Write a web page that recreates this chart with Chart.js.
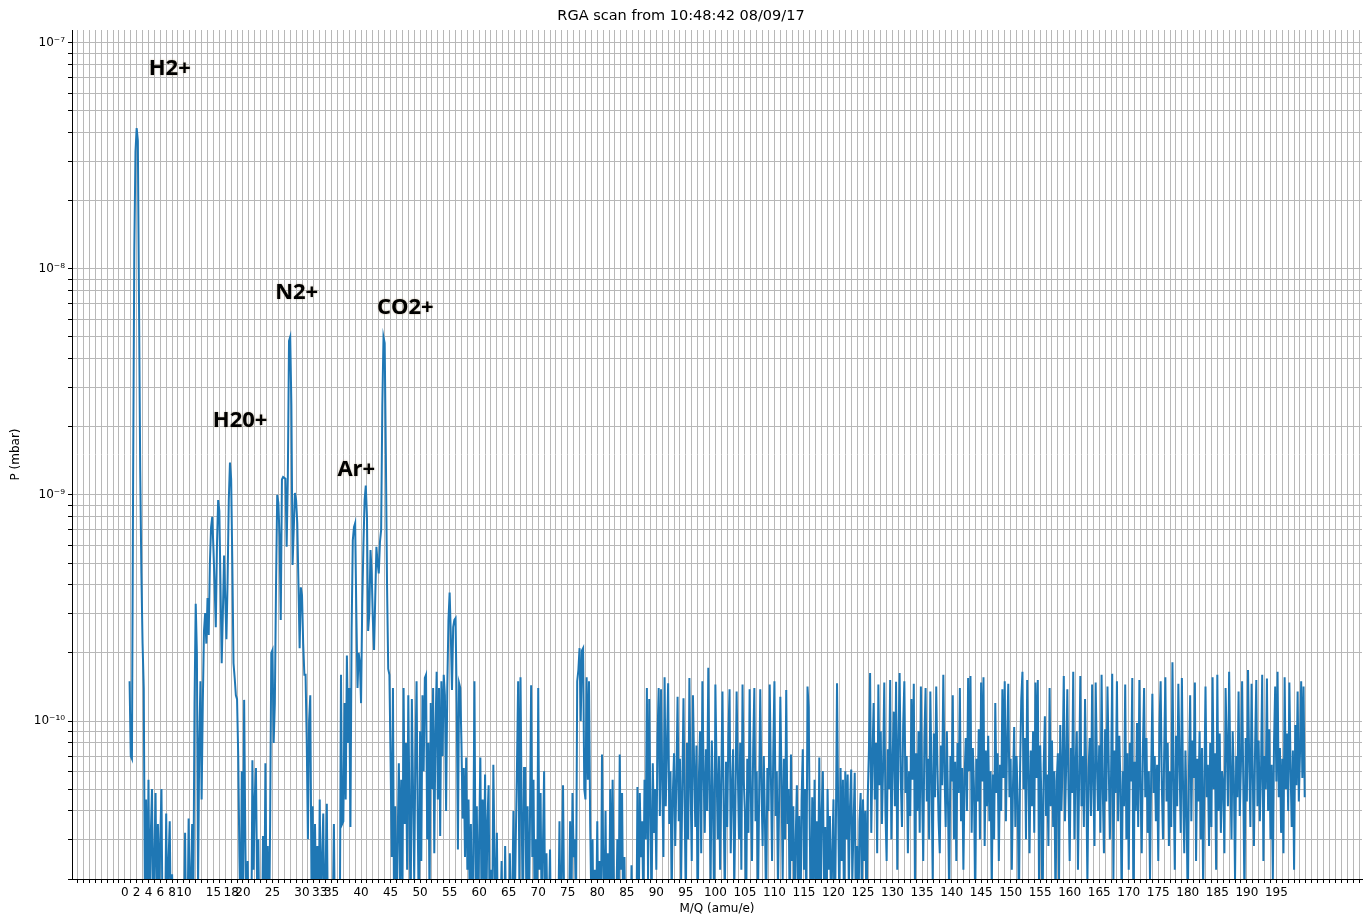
<!DOCTYPE html>
<html>
<head>
<meta charset="utf-8">
<title>RGA scan</title>
<script src="https://cdn.jsdelivr.net/npm/chart.js@4.4.1/dist/chart.umd.min.js"></script>
<style>
  html, body { margin: 0; padding: 0; background: #fff; }
  #rga { display: block; }
</style>
</head>
<body>
<canvas id="rga" width="1364" height="917"></canvas>
<script>
const chartTitle = 'RGA scan from 10:48:42 08/09/17';

// M/Q (amu/e), scan step 0.2
const mass = [
  0.8,
  1,1.2,1.4,1.6,1.8,2,2.2,2.4,2.6,2.8,3,3.2,3.4,3.6,3.8,4,4.2,4.4,4.6,4.8,5,5.2,5.4,5.6,5.8,6,6.2,6.4,6.6,6.8,7,7.2,7.4,7.6,7.8,8,8.2,8.4,8.6,8.8,9,9.2,9.4,9.6,9.8,10,10.2,10.4,10.6,10.8,
  11,11.2,11.4,11.6,11.8,12,12.2,12.4,12.6,12.8,13,13.2,13.4,13.6,13.8,14,14.2,14.4,14.6,14.8,15,15.2,15.4,15.6,15.8,16,16.2,16.4,16.6,16.8,17,17.2,17.4,17.6,17.8,18,18.2,18.4,18.6,18.8,19,19.2,19.4,19.6,19.8,20,20.2,20.4,20.6,20.8,
  21,21.2,21.4,21.6,21.8,22,22.2,22.4,22.6,22.8,23,23.2,23.4,23.6,23.8,24,24.2,24.4,24.6,24.8,25,25.2,25.4,25.6,25.8,26,26.2,26.4,26.6,26.8,27,27.2,27.4,27.6,27.8,28,28.2,28.4,28.6,28.8,29,29.2,29.4,29.6,29.8,30,30.2,30.4,30.6,30.8,
  31,31.2,31.4,31.6,31.8,32,32.2,32.4,32.6,32.8,33,33.2,33.4,33.6,33.8,34,34.2,34.4,34.6,34.8,35,35.2,35.4,35.6,35.8,36,36.2,36.4,36.6,36.8,37,37.2,37.4,37.6,37.8,38,38.2,38.4,38.6,38.8,39,39.2,39.4,39.6,39.8,40,40.2,40.4,40.6,40.8,
  41,41.2,41.4,41.6,41.8,42,42.2,42.4,42.6,42.8,43,43.2,43.4,43.6,43.8,44,44.2,44.4,44.6,44.8,45,45.2,45.4,45.6,45.8,46,46.2,46.4,46.6,46.8,47,47.2,47.4,47.6,47.8,48,48.2,48.4,48.6,48.8,49,49.2,49.4,49.6,49.8,50,50.2,50.4,50.6,50.8,
  51,51.2,51.4,51.6,51.8,52,52.2,52.4,52.6,52.8,53,53.2,53.4,53.6,53.8,54,54.2,54.4,54.6,54.8,55,55.2,55.4,55.6,55.8,56,56.2,56.4,56.6,56.8,57,57.2,57.4,57.6,57.8,58,58.2,58.4,58.6,58.8,59,59.2,59.4,59.6,59.8,60,60.2,60.4,60.6,60.8,
  61,61.2,61.4,61.6,61.8,62,62.2,62.4,62.6,62.8,63,63.2,63.4,63.6,63.8,64,64.2,64.4,64.6,64.8,65,65.2,65.4,65.6,65.8,66,66.2,66.4,66.6,66.8,67,67.2,67.4,67.6,67.8,68,68.2,68.4,68.6,68.8,69,69.2,69.4,69.6,69.8,70,70.2,70.4,70.6,70.8,
  71,71.2,71.4,71.6,71.8,72,72.2,72.4,72.6,72.8,73,73.2,73.4,73.6,73.8,74,74.2,74.4,74.6,74.8,75,75.2,75.4,75.6,75.8,76,76.2,76.4,76.6,76.8,77,77.2,77.4,77.6,77.8,78,78.2,78.4,78.6,78.8,79,79.2,79.4,79.6,79.8,80,80.2,80.4,80.6,80.8,
  81,81.2,81.4,81.6,81.8,82,82.2,82.4,82.6,82.8,83,83.2,83.4,83.6,83.8,84,84.2,84.4,84.6,84.8,85,85.2,85.4,85.6,85.8,86,86.2,86.4,86.6,86.8,87,87.2,87.4,87.6,87.8,88,88.2,88.4,88.6,88.8,89,89.2,89.4,89.6,89.8,90,90.2,90.4,90.6,90.8,
  91,91.2,91.4,91.6,91.8,92,92.2,92.4,92.6,92.8,93,93.2,93.4,93.6,93.8,94,94.2,94.4,94.6,94.8,95,95.2,95.4,95.6,95.8,96,96.2,96.4,96.6,96.8,97,97.2,97.4,97.6,97.8,98,98.2,98.4,98.6,98.8,99,99.2,99.4,99.6,99.8,100,100.2,100.4,100.6,100.8,
  101,101.2,101.4,101.6,101.8,102,102.2,102.4,102.6,102.8,103,103.2,103.4,103.6,103.8,104,104.2,104.4,104.6,104.8,105,105.2,105.4,105.6,105.8,106,106.2,106.4,106.6,106.8,107,107.2,107.4,107.6,107.8,108,108.2,108.4,108.6,108.8,109,109.2,109.4,109.6,109.8,110,110.2,110.4,110.6,110.8,
  111,111.2,111.4,111.6,111.8,112,112.2,112.4,112.6,112.8,113,113.2,113.4,113.6,113.8,114,114.2,114.4,114.6,114.8,115,115.2,115.4,115.6,115.8,116,116.2,116.4,116.6,116.8,117,117.2,117.4,117.6,117.8,118,118.2,118.4,118.6,118.8,119,119.2,119.4,119.6,119.8,120,120.2,120.4,120.6,120.8,
  121,121.2,121.4,121.6,121.8,122,122.2,122.4,122.6,122.8,123,123.2,123.4,123.6,123.8,124,124.2,124.4,124.6,124.8,125,125.2,125.4,125.6,125.8,126,126.2,126.4,126.6,126.8,127,127.2,127.4,127.6,127.8,128,128.2,128.4,128.6,128.8,129,129.2,129.4,129.6,129.8,130,130.2,130.4,130.6,130.8,
  131,131.2,131.4,131.6,131.8,132,132.2,132.4,132.6,132.8,133,133.2,133.4,133.6,133.8,134,134.2,134.4,134.6,134.8,135,135.2,135.4,135.6,135.8,136,136.2,136.4,136.6,136.8,137,137.2,137.4,137.6,137.8,138,138.2,138.4,138.6,138.8,139,139.2,139.4,139.6,139.8,140,140.2,140.4,140.6,140.8,
  141,141.2,141.4,141.6,141.8,142,142.2,142.4,142.6,142.8,143,143.2,143.4,143.6,143.8,144,144.2,144.4,144.6,144.8,145,145.2,145.4,145.6,145.8,146,146.2,146.4,146.6,146.8,147,147.2,147.4,147.6,147.8,148,148.2,148.4,148.6,148.8,149,149.2,149.4,149.6,149.8,150,150.2,150.4,150.6,150.8,
  151,151.2,151.4,151.6,151.8,152,152.2,152.4,152.6,152.8,153,153.2,153.4,153.6,153.8,154,154.2,154.4,154.6,154.8,155,155.2,155.4,155.6,155.8,156,156.2,156.4,156.6,156.8,157,157.2,157.4,157.6,157.8,158,158.2,158.4,158.6,158.8,159,159.2,159.4,159.6,159.8,160,160.2,160.4,160.6,160.8,
  161,161.2,161.4,161.6,161.8,162,162.2,162.4,162.6,162.8,163,163.2,163.4,163.6,163.8,164,164.2,164.4,164.6,164.8,165,165.2,165.4,165.6,165.8,166,166.2,166.4,166.6,166.8,167,167.2,167.4,167.6,167.8,168,168.2,168.4,168.6,168.8,169,169.2,169.4,169.6,169.8,170,170.2,170.4,170.6,170.8,
  171,171.2,171.4,171.6,171.8,172,172.2,172.4,172.6,172.8,173,173.2,173.4,173.6,173.8,174,174.2,174.4,174.6,174.8,175,175.2,175.4,175.6,175.8,176,176.2,176.4,176.6,176.8,177,177.2,177.4,177.6,177.8,178,178.2,178.4,178.6,178.8,179,179.2,179.4,179.6,179.8,180,180.2,180.4,180.6,180.8,
  181,181.2,181.4,181.6,181.8,182,182.2,182.4,182.6,182.8,183,183.2,183.4,183.6,183.8,184,184.2,184.4,184.6,184.8,185,185.2,185.4,185.6,185.8,186,186.2,186.4,186.6,186.8,187,187.2,187.4,187.6,187.8,188,188.2,188.4,188.6,188.8,189,189.2,189.4,189.6,189.8,190,190.2,190.4,190.6,190.8,
  191,191.2,191.4,191.6,191.8,192,192.2,192.4,192.6,192.8,193,193.2,193.4,193.6,193.8,194,194.2,194.4,194.6,194.8,195,195.2,195.4,195.6,195.8,196,196.2,196.4,196.6,196.8,197,197.2,197.4,197.6,197.8,198,198.2,198.4,198.6,198.8,199,199.2,199.4,199.6,199.8
];

// P in units of 1e-11 mbar (values under 2 fall below the axis)
const pressureE11 = [
  15,
  7.0,6.8,120,1200,3300, 4200,3700,700,130,45, 22,14,1.5,4.5,1.2, 5.5,1.4,3.2,5.0,1.0, 2.6,4.8,1.3,3.5,1.5,
  3.0,5.0,1.1,1.6,1.0, 3.9,1.2,2.4,3.6,1.1, 2.1,1.3,0.9,1.2,1.0, 1.1,0.8,1.3,0.9,1.0, 1.2,3.2,1.0,1.1,3.7,
  1.4,2.0,3.5,1.6,12, 33,20,1.8,8,15, 4.5,12,25,30,22, 35,24,50,72,80, 58,40,26,60,95,
  85,40,18,30,54, 35,23,42,95,139, 118,50,18,15.5,13, 12.5,7,2.5,1.2,6, 1.5,12.4,3,1.1,2.4,
  1.0,1.3,0.9,6.7,2.2, 4.6,6.2,1.8,3.0,1.0, 1.2,0.9,3.1,1.1,6.5, 1.5,2.8,1.0,3.5,20, 20.6,8,12,40,100,
  92,65,28,117,120, 119,118,59,120,480, 500,250,49,70,102, 95,75,40,21,39, 36,22,16,16,8.2,
  3,10,13,2.0,4.2, 1.2,3.5,1.5,2.8,1.1, 4.5,1.2,2.5,3.9,1.0, 2.2,4.3,1.1,0.9,1.2, 0.8,1.3,3.5,1.0,0.9,
  1.1,2.0,1.2,16,3.5, 3.6,12,4.5,19.5,8, 14,3.4,25,63,72, 75,30,14,20,18, 12,33,60,95,110,
  80,25,30,57,45, 28,20.6,35,59,50, 45,62,70,250,500, 470,150,40,17,16, 6.7,2.5,14,1.2,4.2,
  1.0,3.0,6.5,2.0,5.5, 1.5,14,3.5,8,2.2, 13,4.0,1.3,12.5,5, 2.0,7,15,3.5,1.2, 9,2.4,13,6,15.5,
  16,3.0,8,1.5,12, 5,14,2.6,9,16.5, 4.5,14,3.1,15,7, 16,13,4,14,28, 37,24,13.7,26,28,
  28.5,12,2.7,14.7,14, 8,3.7,6.2,2.5,6.9, 2.2,4.5,1.5,3.5,1.0, 2.6,15,1.8,4.2,1.2, 3.0,6.9,1.5,4.5,2.0,
  5.8,1.3,3.6,5.2,1.0, 2.2,1.1,6.4,2.5,1.2, 3.2,1.0,0.8,1.3,2.4, 1.1,0.9,2.8,1.0,1.2, 0.8,2.6,1.1,1.5,4.0,
  1.3,3.0,6.2,15,2.0, 15.6,4,1.2,6.2,6.2, 1.5,4.2,1.1,3.6,14.4, 2.5,5.5,1.3,3.0,1.0, 14,2.2,4.8,1.2,2.8,
  6.0,1.0,2.6,1.1,1.4, 2.7,0.9,1.2,0.8,1.1, 1.0,0.8,1.3,3.6,1.0, 2.2,5.2,1.4,0.9,1.2, 0.8,1.1,3.6,1.2,4.8,
  2.5,3.0,1.4,15,16.8, 21,10,20.5,21,5, 4.5,15.6,5.5,15,3.5, 1.5,3.0,1.0,2.2,1.2, 3.6,1.1,2.4,1.0,7.1,
  2.5,1.3,4.0,1.0,2.6, 1.2,5.0,1.4,5.5,2.0, 1.0,1.3,3.0,1.1,7.1, 2.2,4.8,1.2,2.5,1.0, 1.1,0.9,1.2,0.8,2.3,
  1.0,0.9,1.1,0.8,5.1, 1.2,4.8,2.5,3.6,1.5, 5.5,3.0,14,2.0,12.5, 4.0,1.5,6.5,3.2,5.0, 2.2,8.5,14,3.8,13.8,
  5.5,2.5,15.6,4.2,7.5, 14.7,3.5,6.0,1.6,4.8, 7.2,2.8,5.5,12.8,3.6, 6.8,2.0,5.0,12.6,4.2, 1.5,8.0,3.0,15.5,5.2,
  2.4,13,6.5,3.4,7.8, 1.2,5.5,9.0,2.6,15, 6.0,3.2,7.5,4.0,17.2, 5.0,2.0,8.2,4.4,1.3, 14.5,6.2,3.0,7.0,2.2,
  5.5,13.5,4.2,1.6,6.6, 3.4,8.5,13.8,2.6,5.0, 7.5,1.8,4.5,13.5,6.0, 3.0,8.0,2.2,14.5,5.5, 4.0,1.2,6.8,3.2,13.8,
  4.8,2.4,7.5,14,3.6, 6.0,1.5,4.4,13.8,5.2, 2.8,7.0,3.5,1.4,6.2, 4.0,14.5,5.8,2.4,7.2, 15,3.8,6.0,1.8,4.5,
  12.8,5.5,2.0,6.8,3.0, 13.7,3.5,5.0,1.2,7.1, 2.4,4.2,1.0,3.0,5.2, 1.5,3.8,1.1,4.5,7.5, 2.2,5.0,1.3,14.2,11.5,
  3.0,1.2,4.6,2.0,5.5, 1.4,3.6,2.0,6.9,1.2, 4.0,6.0,1.8,3.4,1.0, 5.0,2.2,3.8,1.3,2.6, 4.5,1.0,3.2,14.7,4.0,
  1.5,6.2,2.4,5.5,1.2, 6.0,3.0,5.8,1.8,4.2, 6.1,2.0,3.5,5.9,1.1, 2.8,1.0,3.6,4.8,1.6, 4.5,2.4,4.0,1.2,4.6,
  7.4,16.3,3.2,6.9,12, 4.5,8.0,2.6,14.5,5.2, 9.0,3.5,6.2,14.8,4.0, 2.4,7.5,5.0,15.2,3.0, 6.5,11,4.2,14.9,2.2,
  8.2,16.3,5.5,3.4,9.5, 15,4.8,7.0,2.6,6.0, 3.8,12.5,5.5,14.6,1.8, 7.2,4.0,9.0,3.2,14.2, 5.0,2.4,8.5,14.0,4.4,
  6.8,3.0,13.5,5.8,2.0, 8.8,4.6,14.2,6.4,3.6, 2.6,7.8,5.2,16.0,6.0, 3.4,9.0,4.2,1.6,7.0, 5.4,13.0,3.0,6.6,2.4,
  8.0,4.8,14.0,3.6,6.2, 2.2,5.6,8.4,4.0,15.5, 6.0,15.8,3.2,7.6,5.0, 1.5,6.8,4.4,9.2,3.0, 14.8,5.4,15.6,2.8,7.4,
  4.2,8.6,3.6,6.0,1.8, 5.8,3.0,12.0,4.8,7.2, 2.4,6.4,4.0,13.8,5.6, 15.0,3.6,8.0,14.6,4.6, 6.8,2.2,5.2,9.4,3.4,
  7.0,4.4,1.4,6.2,12.5, 16.5,5.0,8.4,3.0,15.2, 6.0,2.6,7.4,4.2,9.0, 3.2,14.8,5.6,15.2,2.0, 7.8,4.6,1.2,6.4,10.5,
  3.8,5.8,2.8,14.0,4.2, 8.2,3.4,6.0,1.5,5.4, 7.2,2.0,9.6,4.0,6.6, 15.8,3.6,6.2,13.8,5.0, 2.4,7.6,4.8,16.5,3.0,
  6.4,9.0,2.2,5.6,15.8, 4.2,7.0,3.4,12.5,5.8, 1.9,6.2,8.4,3.8,14.5, 5.2,2.8,14.8,6.6,4.0, 7.8,3.2,16.0,5.0,2.6,
  9.2,4.4,14.2,6.8,3.0, 5.6,16.2,2.0,7.4,4.8, 15.0,3.6,8.6,5.2,1.6, 6.0,4.2,14.5,3.0,7.2, 2.2,8.0,5.4,15.5,1.2,
  6.6,4.0,9.8,3.4,15.2, 5.0,2.6,7.6,14.0,4.6, 8.4,3.2,6.0,2.0,5.8, 13.2,4.8,7.0,3.6,6.4, 2.4,9.4,15.0,5.2,3.0,
  7.2,15.6,4.4,8.0,2.8, 6.0,3.4,18.2,5.4,2.2, 8.6,4.2,14.6,6.6,3.2, 15.5,5.0,2.6,7.4,4.0, 1.4,6.2,13.0,3.6,8.2,
  5.6,14.8,2.4,6.8,4.4, 9.0,3.0,7.6,1.8,5.2, 14.2,4.6,6.4,2.8,8.0, 3.4,15.6,5.0,7.2,2.2, 16.0,4.0,8.8,3.2,6.0,
  5.4,2.6,14.0,7.8,4.2, 16.5,6.2,3.0,9.0,5.6, 2.0,7.0,4.6,13.5,3.8, 6.4,15.0,5.2,1.6,8.4, 4.4,16.8,6.6,3.4,14.6,
  5.8,2.8,7.8,15.2,4.2, 8.2,3.6,6.0,16.0,2.4, 7.0,5.0,15.4,4.0,9.2, 3.0,6.4,2.0,8.0,14.2, 5.4,16.5,4.6,7.6,3.2,
  6.8,2.6,15.6,5.0,8.8, 4.0,14.8,6.2,3.4,7.4, 2.2,9.6,5.2,13.5,4.4, 7.2,15.0,5.6,14.2,4.6
];
const pressure = pressureE11.map(v => v * 1e-11);

const xTickLabels = [0, 2, 4, 6, 8, 10, 15, 18, 20, 25, 30, 33, 35, 40, 45, 50, 55, 60, 65, 70, 75, 80, 85, 90,
  95, 100, 105, 110, 115, 120, 125, 130, 135, 140, 145, 150, 155, 160, 165, 170, 175, 180, 185, 190, 195];
const yDecades = [1e-10, 1e-9, 1e-8, 1e-7];
const yDecadeLabels = ['10\u207B\u00B9\u2070', '10\u207B\u2079', '10\u207B\u2078', '10\u207B\u2077'];

const peakNames = ['H2+', 'H20+', 'N2+', 'Ar+', 'CO2+'];
const peakNameMass = [4.05, 14.9, 25.45, 36.0, 42.7];
const peakNamePressure = [7.2e-8, 2.0e-9, 7.35e-9, 1.21e-9, 6.3e-9];

const xMin = -8.95, xMax = 209.5;
const yMin = 2e-11, yMax = 1.14e-7;

const font = { family: 'DejaVu Sans', size: 12 };
const gridColor = '#b8b8b8';

// bold gas names next to the peaks
const peakLabels = {
  id: 'peakLabels',
  afterDatasetsDraw(chart) {
    const { ctx, scales: { x, y } } = chart;
    ctx.save();
    ctx.font = 'bold 22px "Open Sans"';
    ctx.fillStyle = '#000';
    ctx.textAlign = 'left';
    ctx.textBaseline = 'alphabetic';
    ctx.shadowColor = 'rgba(120,90,40,0.45)';
    ctx.shadowBlur = 2;
    peakNames.forEach((name, i) => {
      ctx.fillText(name, x.getPixelForValue(peakNameMass[i]), y.getPixelForValue(peakNamePressure[i]));
    });
    ctx.restore();
  }
};

new Chart(document.getElementById('rga'), {
  type: 'line',
  data: {
    labels: mass,
    datasets: [{
      label: 'P',
      data: pressure,
      borderColor: '#1f77b4',
      borderWidth: 2,
      pointRadius: 0,
      tension: 0,
      fill: false
    }]
  },
  options: {
    responsive: false,
    animation: false,
    devicePixelRatio: 1,
    events: [],
    layout: { padding: { left: 0, right: 2, top: 0, bottom: 0 } },
    plugins: {
      legend: { display: false },
      tooltip: { enabled: false },
      title: {
        display: true,
        text: chartTitle,
        color: '#000',
        font: { family: 'DejaVu Sans', size: 14.5, weight: 'normal' },
        padding: { top: 8, bottom: 4.6 }
      }
    },
    scales: {
      x: {
        type: 'linear',
        min: xMin,
        max: xMax,
        afterBuildTicks: s => {
          const t = [];
          for (let m = Math.ceil(xMin); m <= xMax; m++) t.push({ value: m });
          s.ticks = t;
        },
        afterFit: s => { s.height = 38; },
        grid: { color: gridColor, lineWidth: 1, tickLength: 4, tickColor: '#000' },
        border: { color: '#000', width: 1 },
        ticks: {
          autoSkip: false, maxRotation: 0, minRotation: 0, padding: 3,
          color: '#000', font: font,
          callback: v => xTickLabels.includes(v) ? String(v) : ''
        },
        title: { display: true, text: 'M/Q (amu/e)', color: '#000', font: font, padding: { top: 0, bottom: 1 } }
      },
      y: {
        type: 'logarithmic',
        min: yMin,
        max: yMax,
        afterBuildTicks: s => {
          const t = [];
          for (let e = -11; e <= -7; e++) {
            for (let k = 1; k < 10; k++) {
              const v = k * Math.pow(10, e);
              if (v < yMin || v > yMax) continue;
              const d = k === 1 ? yDecades.findIndex(p => Math.abs(p - v) < v * 1e-6) : -1;
              t.push({ value: v, txt: d >= 0 ? yDecadeLabels[d] : '' });
            }
          }
          s.ticks = t;
        },
        afterFit: s => { s.width = 72; },
        grid: { color: gridColor, lineWidth: 1, tickLength: 4, tickColor: '#000' },
        border: { color: '#000', width: 1 },
        ticks: {
          autoSkip: false, padding: 3, color: '#000', font: font,
          callback: (v, i, t) => t[i].txt
        },
        title: { display: true, text: 'P (mbar)', color: '#000', font: font, padding: { top: 9, bottom: 0 } }
      }
    }
  },
  plugins: [peakLabels]
});
</script>
</body>
</html>
